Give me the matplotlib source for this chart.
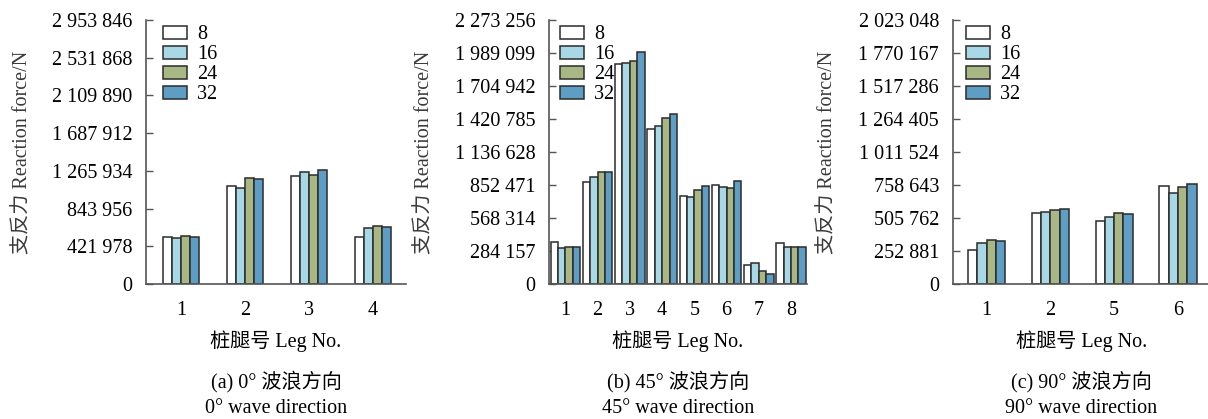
import numpy as np
import matplotlib
matplotlib.use("Agg")
import matplotlib.pyplot as plt

plt.rcParams['font.family'] = ['Liberation Serif', 'Noto Sans CJK SC']
plt.rcParams['font.size'] = 14.5

# data (N)
series = ['8', '16', '24', '32']
colors = ['#ffffff', '#a8d8e5', '#a9b784', '#5e9ec4']

legs_a = ['1', '2', '3', '4']
a8 = [530000, 1096000, 1212000, 529000]
a16 = [518000, 1074000, 1249000, 627000]
a24 = [537000, 1182000, 1216000, 649000]
a32 = [522000, 1178000, 1272000, 634000]
step_a = 421978

legs_b = ['1', '2', '3', '4', '5', '6', '7', '8']
b8 = [362000, 878000, 1892000, 1338000, 758000, 850000, 161000, 356000]
b16 = [307000, 921000, 1900000, 1360000, 749000, 838000, 178000, 319000]
b24 = [319000, 962000, 1917000, 1432000, 809000, 824000, 112000, 319000]
b32 = [316000, 967000, 1995000, 1467000, 847000, 887000, 89000, 319000]
step_b = 284157

legs_c = ['1', '2', '5', '6']
c8 = [258000, 542000, 485000, 748000]
c16 = [317000, 554000, 511000, 695000]
c24 = [335000, 570000, 542000, 743000]
c32 = [327000, 572000, 534000, 764000]
step_c = 252881

fig = plt.figure(figsize=(12.08, 4.19), dpi=100)


def panel(rect, legs, vals, step, nsteps, width, xlim, cap1, cap2, ylx, legx):
    ax = fig.add_axes(rect)
    x = np.arange(len(legs))
    for i, v in enumerate(vals):
        ax.bar(x + (i - 1.5) * width, v, width, color=colors[i],
               edgecolor='#2b2b2b', linewidth=1.1, label=series[i], zorder=2)
    ticks = np.arange(nsteps + 1) * step
    ax.set_yticks(ticks)
    ax.set_yticklabels([f"{t:,}".replace(',', ' ') for t in ticks])
    ax.set_ylim(0, ticks[-1])
    ax.set_xticks(x)
    ax.set_xticklabels(legs)
    ax.set_xlim(*xlim)
    for s in ['top', 'right']:
        ax.spines[s].set_visible(False)
    for s in ['left', 'bottom']:
        ax.spines[s].set_color('#555555')
        ax.spines[s].set_linewidth(1.2)
    ax.tick_params(axis='y', direction='in', length=5, width=1.0, color='#555555', pad=10)
    ax.tick_params(axis='x', length=0, pad=12)
    ax.set_ylabel('支反力 Reaction force/N', color='#3a3a3a', va='center')
    ax.yaxis.set_label_coords(ylx, 0.5)
    ax.set_xlabel('桩腿号 Leg No.', va='center')
    ax.xaxis.set_label_coords(0.5, -0.218)
    ax.text(0.5, -0.37, cap1, transform=ax.transAxes, ha='center', va='center')
    ax.text(0.5, -0.472, cap2, transform=ax.transAxes, ha='center', va='center')
    leg = ax.legend(loc='upper left', bbox_to_anchor=(legx, 0.995), frameon=False,
                    handlelength=1.2, handleheight=0.6, handletextpad=0.5,
                    labelspacing=0.05, borderpad=0.2, borderaxespad=0)
    leg.set_zorder(5)
    return ax


panel([0.1209, 0.3222, 0.2152, 0.630], legs_a, [a8, a16, a24, a32], step_a, 7,
      0.14, (-0.55, 3.52), '(a) 0° 波浪方向', '0° wave direction', -0.473, 0.05)
panel([0.4545, 0.3222, 0.2136, 0.630], legs_b, [b8, b16, b24, b32], step_b, 8,
      0.23, (-0.51, 7.5), '(b) 45° 波浪方向', '45° wave direction', -0.48, 0.027)
panel([0.7889, 0.3222, 0.2127, 0.630], legs_c, [c8, c16, c24, c32], step_c, 8,
      0.146, (-0.525, 3.5), '(c) 90° 波浪方向', '90° wave direction', -0.486, 0.035)

fig.savefig('out.png', dpi=100)
